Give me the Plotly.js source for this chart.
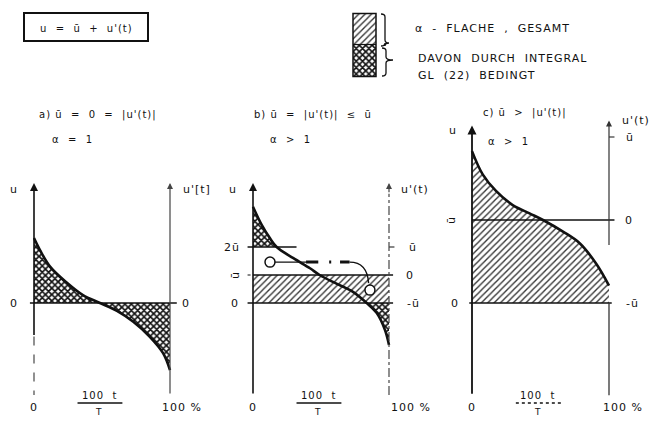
<!DOCTYPE html>
<html><head><meta charset="utf-8">
<script src="https://cdn.plot.ly/plotly-3.0.1.min.js"></script>
<style>
html,body{margin:0;padding:0;background:#fff}
#chart{width:661px;height:421px}
.annotation-text{letter-spacing:1px}
</style></head><body><div id="chart"></div>
<script>
// ---- data (t/T in %, u in units of ū; panel a: u' in arbitrary units) ----
const tA = [0, 4.4, 11.8, 24, 36, 48.5, 61, 73, 85, 95, 100];
const uA = [2.32, 1.89, 1.30, 0.73, 0.28, 0, -0.28, -0.67, -1.2, -1.8, -2.4];
const tB = [0, 6.4, 12.5, 17.4, 29.7, 41.9, 49, 61, 73.5, 83.6, 91, 97, 100];
const uB = [3.44, 2.79, 2.31, 2.0, 1.6, 1.24, 1.0, 0.70, 0.40, 0, -0.36, -0.96, -1.5];
const tC = [0, 7.8, 17.5, 29.7, 42, 51.8, 66.4, 78.6, 90.8, 100];
const uC = [1.83, 1.55, 1.35, 1.18, 1.08, 1.0, 0.86, 0.72, 0.47, 0.21];
const tSpan = [0, 100];
const levelMean = 1;      // ū
const levelTwice = 2;     // 2ū
const calloutT = [12.5, 86];
const calloutU = [1.46, 0.46];

const W = 661, H = 421;
const px = v => v / W, py = v => 1 - v / H;
const FONT = {family: 'DejaVu Sans', size: 11, color: '#111'};

const diag = {shape: '/', size: 4.5, solidity: 0.3, fgcolor: '#333', bgcolor: 'white'};
const cross = {shape: 'x', size: 4.5, solidity: 0.6, fgcolor: '#111', bgcolor: 'white'};
const curveLine = {color: '#111', width: 2.6, shape: 'spline'};

// derived subsets for panel b crosshatch regions
const topIdx = tB.map((t, i) => i).filter(i => uB[i] >= levelTwice);
const botIdx = tB.map((t, i) => i).filter(i => uB[i] <= 0);

const traces = [
  // panel a
  {x: tA, y: uA, xaxis: 'x', yaxis: 'y', mode: 'lines', fill: 'tozeroy', fillpattern: cross,
   line: {width: 0, shape: 'spline'}},
  {x: tA, y: uA, xaxis: 'x', yaxis: 'y', mode: 'lines', line: curveLine},
  // panel b
  {x: tSpan, y: tSpan.map(() => levelMean), xaxis: 'x2', yaxis: 'y2', mode: 'lines', fill: 'tozeroy',
   fillpattern: diag, line: {width: 0}},
  {x: topIdx.map(i => tB[i]), y: topIdx.map(() => levelTwice), xaxis: 'x2', yaxis: 'y2', mode: 'lines', line: {width: 0}},
  {x: topIdx.map(i => tB[i]), y: topIdx.map(i => uB[i]), xaxis: 'x2', yaxis: 'y2', mode: 'lines',
   fill: 'tonexty', fillpattern: cross, line: {width: 0, shape: 'spline'}},
  {x: botIdx.map(i => tB[i]), y: botIdx.map(i => uB[i]), xaxis: 'x2', yaxis: 'y2', mode: 'lines',
   fill: 'tozeroy', fillpattern: cross, line: {width: 0, shape: 'spline'}},
  {x: tB, y: uB, xaxis: 'x2', yaxis: 'y2', mode: 'lines', line: curveLine},
  {x: calloutT, y: calloutU, xaxis: 'x2', yaxis: 'y2', mode: 'markers',
   marker: {symbol: 'circle', size: 10, color: 'white', line: {color: '#111', width: 1.5}}},
  // panel c
  {x: tC, y: uC, xaxis: 'x3', yaxis: 'y3', mode: 'lines', fill: 'tozeroy', fillpattern: diag,
   line: {width: 0, shape: 'spline'}},
  {x: tC, y: uC, xaxis: 'x3', yaxis: 'y3', mode: 'lines', line: curveLine},
  // legend swatches
  {x: [0, 1], y: [0.5, 0.5], xaxis: 'x4', yaxis: 'y4', mode: 'lines', fill: 'tozeroy', fillpattern: cross, line: {width: 0}},
  {x: [0, 1], y: [1, 1], xaxis: 'x4', yaxis: 'y4', mode: 'lines', fill: 'tonexty', fillpattern: diag, line: {width: 0}}
];

const hid = {visible: false, fixedrange: true};
const yDom = [py(400), py(110)];
function xdom(l, r) { const s = (r - l) / 100; return [px(l - 15 * s), px(r + 15 * s)]; }

const layout = {
  width: W, height: H, margin: {l: 0, r: 0, t: 0, b: 0},
  paper_bgcolor: 'white', plot_bgcolor: 'rgba(0,0,0,0)', showlegend: false,
  font: FONT,
  xaxis: Object.assign({domain: xdom(34, 170), range: [-15, 115], anchor: 'y'}, hid),
  yaxis: Object.assign({domain: yDom, range: [-(400 - 303) / 28, (303 - 110) / 28], anchor: 'x'}, hid),
  xaxis2: Object.assign({domain: xdom(253, 389), range: [-15, 115], anchor: 'y2'}, hid),
  yaxis2: Object.assign({domain: yDom, range: [-(400 - 303) / 28, (303 - 110) / 28], anchor: 'x2'}, hid),
  xaxis3: Object.assign({domain: xdom(472, 609), range: [-15, 115], anchor: 'y3'}, hid),
  yaxis3: Object.assign({domain: yDom, range: [-(400 - 303) / 83, (303 - 110) / 83], anchor: 'x3'}, hid),
  xaxis4: Object.assign({domain: [px(353), px(376)], range: [0, 1], anchor: 'y4'}, hid),
  yaxis4: Object.assign({domain: [py(76.5), py(13.5)], range: [0, 1], anchor: 'x4'}, hid),
  shapes: [], annotations: []
};
const S = layout.shapes, A = layout.annotations;

function hline(xr, yr, x0, x1, y, w, dash, color) {
  S.push({type: 'line', xref: xr, yref: yr, x0: x0, x1: x1, y0: y, y1: y,
          line: {color: color || '#111', width: w || 1.5, dash: dash || 'solid'}});
}
function vline(xr, yr, x, y0, y1, w, dash, color) {
  S.push({type: 'line', xref: xr, yref: yr, x0: x, x1: x, y0: y0, y1: y1,
          line: {color: color || '#111', width: w || 1.5, dash: dash || 'solid'}});
}
function arrow(xr, yr, x, y0, y1, w, color) {
  A.push({xref: xr, yref: yr, axref: xr, ayref: yr, x: x, y: y1, ax: x, ay: y0, text: '',
          showarrow: true, arrowhead: 2, arrowsize: 1, arrowwidth: w || 1.6, arrowcolor: color || '#111'});
}
function txt(text, x, y, yr, opt) {
  A.push(Object.assign({xref: 'paper', yref: yr, x: px(x), y: yr === 'paper' ? py(y) : y, text: text,
          showarrow: false, font: FONT, xanchor: 'center', yanchor: 'middle'}, opt || {}));
}

// ---- panel a ----
hline('x', 'y', -3, 105, 0, 1.6);
arrow('x', 'y', 0, -1.2, 4.29, 1.6);
vline('x', 'y', 0, -1.2, -3.29, 1.3, 'dash', '#555');
arrow('x', 'y', 100, -3.29, 4.29, 1.2, '#444');
txt('u', 14, 4.04, 'y');
txt('u\'[t]', 181, 4.04, 'y', {xanchor: 'left'});
txt('0', 14, 0, 'y');
txt('0', 186, 0, 'y');

// ---- panel b ----
hline('x2', 'y2', -4, 103, 0, 1.6);
hline('x2', 'y2', 0, 103, levelMean, 1.6);
hline('x2', 'y2', -4, 0, levelMean, 1.2, 'dot');
hline('x2', 'y2', -4, 32, levelTwice, 1.6);
hline('x2', 'y2', 100, 104, levelTwice, 1.2);
arrow('x2', 'y2', 0, -3.29, 4.29, 1.6);
vline('x2', 'y2', 100, -3.29, 3.9, 1.2, 'dashdot', '#444');
arrow('x2', 'y2', 100, 3.9, 4.29, 1.2, '#444');
// callout
S.push({type: 'line', xref: 'x2', yref: 'y2', x0: calloutT[0] + 3.5, x1: 39, y0: calloutU[0], y1: calloutU[0], line: {color: '#111', width: 1.4}});
S.push({type: 'line', xref: 'x2', yref: 'y2', x0: 39, x1: 48, y0: calloutU[0], y1: calloutU[0], line: {color: '#111', width: 3}});
S.push({type: 'line', xref: 'x2', yref: 'y2', x0: 56, x1: 57.5, y0: calloutU[0], y1: calloutU[0], line: {color: '#111', width: 3}});
S.push({type: 'line', xref: 'x2', yref: 'y2', x0: 64, x1: 71, y0: calloutU[0], y1: calloutU[0], line: {color: '#111', width: 3}});
S.push({type: 'path', xref: 'x2', yref: 'y2', path: 'M 71,' + calloutU[0] + ' Q 84,' + calloutU[0] + ' 85,' + (calloutU[1] + 0.25),
        line: {color: '#111', width: 1.4}});
txt('u', 233, 4.04, 'y2');
txt('u\'(t)', 399, 4.04, 'y2', {xanchor: 'left'});
txt('2ū', 232, levelTwice, 'y2');
txt('ū', 235, levelMean, 'y2', {textangle: -90});
txt('0', 235, 0, 'y2');
txt('ū', 413, levelTwice, 'y2');
txt('0', 410, levelMean, 'y2');
txt('-ū', 413, 0, 'y2');

// ---- panel c ----
hline('x3', 'y3', -2, 102, 0, 1.6);
hline('x3', 'y3', 0, 104, levelMean, 1.4);
hline('x3', 'y3', 100, 104, levelTwice, 1.2);
arrow('x3', 'y3', 0, -1.11, 2.14, 1.8);
arrow('x3', 'y3', 100, 0.68, 2.2, 1.2, '#333');
vline('x3', 'y3', 100, 0, -1.11, 1.3, 'solid', '#333');
txt('u', 453, 2.08, 'y3');
txt('u\'(t)', 620, 2.2, 'y3', {xanchor: 'left'});
txt('ū', 451, levelMean, 'y3', {textangle: -90});
txt('0', 455, 0, 'y3');
txt('ū', 630, levelTwice, 'y3');
txt('0', 629, levelMean, 'y3');
txt('-ū', 632, 0, 'y3');

// bottom labels and fractions
[[34, 170], [253, 389], [472, 609]].forEach(([l, r], k) => {
  const s = (r - l) / 100;
  txt('0', l, 407, 'paper');
  txt('100 %', [160, 389, 601][k], 407, 'paper', {xanchor: 'left'});
  const c = l + 48 * s;
  txt('100  t', c, 395, 'paper', {font: Object.assign({}, FONT, {size: 10})});
  txt('T', c, 412, 'paper', {font: Object.assign({}, FONT, {size: 9})});
  S.push({type: 'line', xref: 'paper', yref: 'paper', x0: px(l + 32 * s), x1: px(l + 65 * s), y0: py(403), y1: py(403),
          line: {color: '#111', width: 1.3, dash: k === 2 ? 'dot' : 'solid'}});
});

// panel titles
const tf = Object.assign({}, FONT, {size: 10});
txt('a) ū  =  0  =  |u\'(t)|', 98, 115, 'paper', {font: tf});
txt('α  =  1', 72, 139, 'paper', {font: tf});
txt('b) ū  =  |u\'(t)|  ≤  ū', 313, 115, 'paper', {font: tf});
txt('α  >  1', 290, 139, 'paper', {font: tf});
txt('c) ū  >  |u\'(t)|', 525, 113, 'paper', {font: tf});
txt('α  >  1', 508, 141, 'paper', {font: tf});

// formula box
S.push({type: 'rect', xref: 'paper', yref: 'paper', x0: px(24), x1: px(148), y0: py(41), y1: py(13),
        line: {color: '#111', width: 2}});
txt('u  =  ū  +  u\'(t)', 86, 28, 'paper', {font: tf});

// legend
S.push({type: 'rect', xref: 'paper', yref: 'paper', x0: px(353), x1: px(376), y0: py(76.5), y1: py(13.5),
        line: {color: '#111', width: 1.5}});
hline('paper', 'paper', px(353), px(376), py(44.5), 1.2);
function brace(x0, x1, xt, y0, y1, ym) {
  const r = 3;
  const P = (x, y) => px(x) + ',' + py(y);
  S.push({type: 'path', xref: 'paper', yref: 'paper',
    path: 'M ' + P(x0, y0) + ' Q ' + P(x1, y0) + ' ' + P(x1, y0 + r) + ' L ' + P(x1, ym - r) +
          ' Q ' + P(x1, ym) + ' ' + P(xt, ym) + ' Q ' + P(x1, ym) + ' ' + P(x1, ym + r) +
          ' L ' + P(x1, y1 - r) + ' Q ' + P(x1, y1) + ' ' + P(x0, y1),
    line: {color: '#111', width: 1.3}});
}
brace(381, 385, 389, 14, 46, 43);
brace(382, 386, 393, 48, 76, 60);
const lf = Object.assign({}, FONT, {size: 11});
txt('α  -  FLACHE  ,  GESAMT', 413, 28, 'paper', {xanchor: 'left', font: lf});
txt('DAVON  DURCH  INTEGRAL', 416, 58, 'paper', {xanchor: 'left', font: lf});
txt('GL  (22)  BEDINGT', 416, 75, 'paper', {xanchor: 'left', font: lf});

Plotly.newPlot('chart', traces, layout, {staticPlot: true, displayModeBar: false});
</script></body></html>
